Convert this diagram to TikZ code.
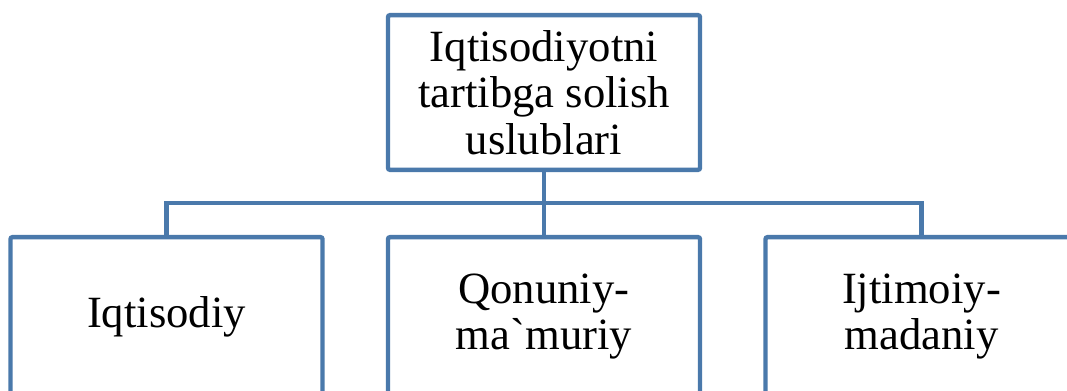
\documentclass[tikz,border=0pt]{standalone}
\usepackage{fontspec}
\setmainfont{Liberation Serif}[Ligatures=TeXOff]
\usepackage{tikz}
\definecolor{boxblue}{RGB}{74,121,171}

\begin{document}
\begin{tikzpicture}[x=0.75pt,y=-0.75pt,line width=3.3pt,
        box/.style={draw=boxblue,fill=white,rectangle,rounded corners=1.5pt,
          inner sep=0pt,align=center,minimum width=234pt,
          font=\fontsize{33.5}{34.8}\selectfont}]

  \useasboundingbox (0,0) rectangle (1067,390);
  \clip (0,0) rectangle (1067,390);

  \node[box,minimum height=116pt] (top) at (544,92.5) {Iqtisodiyotni\\tartibga solish\\uslublari};
  \node[box,minimum height=119pt] (b_1) at (166.5,316.5) {Iqtisodiy};
  \node[box,minimum height=119pt] (b_2) at (544,316.5) {Qonuniy-\\ma`muriy};
  \node[box,minimum height=119pt] (b_3) at (921.5,316.5) {Ijtimoiy-\\madaniy};

  \coordinate (bus) at (544,203);

  \draw[boxblue] (top.south) -- (bus);
  \draw[boxblue] (bus) -| (b_1.north)
                 (bus) -| (b_2.north)
                 (bus) -| (b_3.north);

\end{tikzpicture}
\end{document}
